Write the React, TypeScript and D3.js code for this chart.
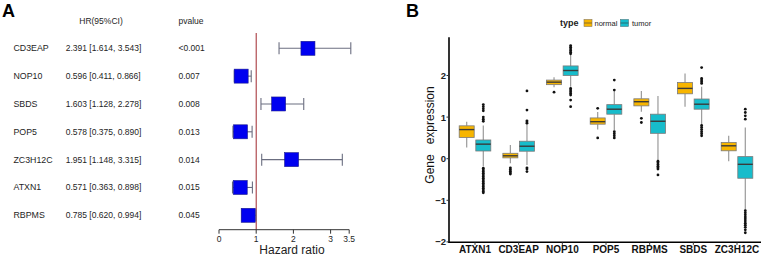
import React from "react";
import * as d3 from "d3";

// ---------- Panel A data ----------
const forestGenes = ["CD3EAP", "NOP10", "SBDS", "POP5", "ZC3H12C", "ATXN1", "RBPMS"];
const hrValues = [2.391, 0.596, 1.603, 0.578, 1.951, 0.571, 0.785];
const hrLower = [1.614, 0.411, 1.128, 0.375, 1.148, 0.363, 0.62];
const hrUpper = [3.543, 0.866, 2.278, 0.89, 3.315, 0.898, 0.994];
const pValues = ["<0.001", "0.007", "0.008", "0.013", "0.014", "0.015", "0.045"];
const hrTicks = [0, 1, 2, 3, 3.5];

// ---------- Panel B data ----------
const genes = ["ATXN1", "CD3EAP", "NOP10", "POP5", "RBPMS", "SBDS", "ZC3H12C"];
const groups = ["normal", "tumor"];
// [whiskerLow, q1, median, q3, whiskerHigh]
const normalStats = [
  [0.27, 0.51, 0.7, 0.79, 0.89],
  [-0.11, 0.02, 0.07, 0.13, 0.33],
  [1.72, 1.78, 1.84, 1.89, 1.96],
  [0.7, 0.83, 0.89, 0.98, 1.12],
  [1.13, 1.27, 1.37, 1.44, 1.63],
  [1.25, 1.56, 1.69, 1.83, 2.05],
  [-0.06, 0.19, 0.31, 0.39, 0.55],
];
const tumorStats = [
  [-0.18, 0.185, 0.35, 0.45, 0.8],
  [-0.15, 0.18, 0.3, 0.42, 0.81],
  [1.73, 2.0, 2.12, 2.23, 2.49],
  [0.69, 1.07, 1.19, 1.3, 1.62],
  [-0.03, 0.61, 0.9, 1.07, 1.51],
  [0.83, 1.19, 1.31, 1.435, 1.73],
  [-1.23, -0.47, -0.135, 0.05, 0.75],
];
const normalOutliers = [
  [],
  [-0.22, -0.26, -0.3, -0.34, -0.37],
  [1.6],
  [1.21, 0.5],
  [0.97, 0.87],
  [],
  [],
];
const tumorOutliers = [
  [0.9, 0.95, 1.0, 1.15, 1.2, 1.25, 1.3, -0.23, -0.27, -0.31, -0.35, -0.39, -0.43, -0.47, -0.51, -0.55, -0.59, -0.63, -0.67, -0.71, -0.75, -0.79, -0.82],
  [0.85, 0.88, 0.91, 1.17, 1.63, -0.22, -0.25, -0.31],
  [2.52, 2.56, 2.6, 2.64, 2.68, 2.72, 1.69, 1.65, 1.61, 1.57, 1.53, 1.41, 1.25],
  [1.65, 1.89, 0.65, 0.6, 0.55, 0.5],
  [-0.06, -0.1, -0.14, -0.18, -0.22, -0.25, -0.39],
  [1.81, 1.85, 1.89, 1.93, 2.19, 0.8, 0.75, 0.7, 0.65, 0.6, 0.55],
  [0.95, 1.03, 1.11, 1.19, -1.25, -1.3, -1.35, -1.4, -1.45, -1.5, -1.55, -1.6, -1.65, -1.71, -1.78],
];
const exprTicks = [-2, -1, 0, 1, 2];

const FONT = "Arial, 'Liberation Sans', Helvetica, sans-serif";
const COLORS: Record<string, string> = { normal: "#F7B500", tumor: "#17BCCB" };

export default function App() {
  // Panel A scales
  const hx = d3.scaleLinear().domain([0, 3.5]).range([219, 349.2]);
  const rowY = d3.scalePoint<string>().domain(forestGenes).range([48.3, 215.3]);
  const axisY = 229.7;
  const sq = 14;

  // Panel B scales
  const gx = d3.scalePoint<string>().domain(genes).range([475, 737]);
  const dodge = d3.scalePoint<string>().domain(groups).range([-8.3, 8.3]);
  const ey = d3.scaleLinear().domain([-2, 2]).range([241.9, 75.5]);
  const boxW = 15;
  const axisLeft = 449;
  const axisBottom = ey(-2.01);

  const boxes: any[] = [];
  genes.forEach((g, i) => {
    groups.forEach((grp) => {
      const s = grp === "normal" ? normalStats[i] : tumorStats[i];
      const o = grp === "normal" ? normalOutliers[i] : tumorOutliers[i];
      boxes.push({ g, grp, s, o, cx: (gx(g) as number) + (dodge(grp) as number) });
    });
  });

  const txt = "#1e1e1e";

  return (
    <svg width={761} height={256} style={{ position: "absolute", left: 0, top: 0, background: "#fff" }} fontFamily={FONT}>
      {/* ===== Panel A ===== */}
      <text x={2} y={17} fontSize={18} fontWeight="bold" fill="#000">A</text>
      <text x={101} y={23.5} fontSize={8.5} fill={txt} textAnchor="middle">HR(95%CI)</text>
      <text x={178.5} y={23.5} fontSize={8.5} fill={txt}>pvalue</text>
      {forestGenes.map((g, i) => {
        const y = rowY(g) as number;
        return (
          <g key={g}>
            <text x={13.5} y={y + 3} fontSize={8.8} fill={txt}>{g}</text>
            <text x={65.7} y={y + 3} fontSize={8.5} fill={txt}>
              {`${hrValues[i].toFixed(3)} [${hrLower[i].toFixed(3)}, ${hrUpper[i].toFixed(3)}]`}
            </text>
            <text x={178.5} y={y + 3} fontSize={8.5} fill={txt}>{pValues[i]}</text>
          </g>
        );
      })}
      {/* reference line */}
      <line x1={hx(1)} x2={hx(1)} y1={33} y2={axisY} stroke="#A0282E" strokeWidth={1} />
      {forestGenes.map((g, i) => {
        const y = rowY(g) as number;
        return (
          <g key={"ci" + g}>
            <line x1={hx(hrLower[i])} x2={hx(hrUpper[i])} y1={y} y2={y} stroke="#6B6E80" strokeWidth={1.1} />
            <line x1={hx(hrLower[i])} x2={hx(hrLower[i])} y1={y - 6} y2={y + 6} stroke="#6B6E80" strokeWidth={1.1} />
            <line x1={hx(hrUpper[i])} x2={hx(hrUpper[i])} y1={y - 6} y2={y + 6} stroke="#6B6E80" strokeWidth={1.1} />
            <rect x={hx(hrValues[i]) - sq / 2} y={y - sq / 2} width={sq} height={sq} fill="#0000F0" stroke="#1A1A8C" strokeWidth={0.6} />
          </g>
        );
      })}
      {/* HR axis */}
      <line x1={hx(0)} x2={hx(3.5)} y1={axisY} y2={axisY} stroke="#333" strokeWidth={1} />
      {hrTicks.map((t) => (
        <g key={"t" + t}>
          <line x1={hx(t)} x2={hx(t)} y1={axisY} y2={axisY + 4} stroke="#333" strokeWidth={1} />
          <text x={hx(t)} y={axisY + 12} fontSize={8.5} fill={txt} textAnchor="middle">{String(t)}</text>
        </g>
      ))}
      <text x={292} y={254} fontSize={12} fill="#222" textAnchor="middle">Hazard ratio</text>

      {/* ===== Panel B ===== */}
      <text x={406} y={17} fontSize={18} fontWeight="bold" fill="#000">B</text>
      {/* legend */}
      <text x={560} y={26} fontSize={9} fontWeight="bold" fill="#222">type</text>
      <rect x={584} y={19.5} width={8} height={7} fill={COLORS.normal} stroke="#8a7a5a" strokeWidth={0.6} />
      <line x1={584} x2={592} y1={23} y2={23} stroke="#6a5a3a" strokeWidth={0.8} />
      <text x={594.5} y={25.5} fontSize={7.5} fill="#222">normal</text>
      <rect x={620.5} y={19.5} width={8} height={7} fill={COLORS.tumor} stroke="#4a7a80" strokeWidth={0.6} />
      <line x1={620.5} x2={628.5} y1={23} y2={23} stroke="#2a5a60" strokeWidth={0.8} />
      <text x={632} y={25.5} fontSize={7.5} fill="#222">tumor</text>

      {/* y label */}
      <text transform={`translate(434,135) rotate(-90)`} fontSize={12} fill="#111" textAnchor="middle" xmlSpace="preserve" style={{ whiteSpace: "pre" }}>
        {"Gene   expression"}
      </text>

      {/* boxes */}
      {boxes.map((b) => {
        const [wl, q1, md, q3, wh] = b.s;
        return (
          <g key={b.g + b.grp}>
            <line x1={b.cx} x2={b.cx} y1={ey(wh)} y2={ey(q3)} stroke="#9a9a9a" strokeWidth={1.2} />
            <line x1={b.cx} x2={b.cx} y1={ey(q1)} y2={ey(wl)} stroke="#9a9a9a" strokeWidth={1.2} />
            <rect x={b.cx - boxW / 2} y={ey(q3)} width={boxW} height={ey(q1) - ey(q3)} fill={COLORS[b.grp]} stroke="#7a7a7a" strokeWidth={0.8} />
            <line x1={b.cx - boxW / 2} x2={b.cx + boxW / 2} y1={ey(md)} y2={ey(md)} stroke="#3a3a3a" strokeWidth={1.4} />
            {b.o.map((v: number, k: number) => (
              <circle key={k} cx={b.cx} cy={ey(v)} r={1.4} fill="#111" />
            ))}
          </g>
        );
      })}

      {/* axes */}
      <line x1={axisLeft} x2={axisLeft} y1={ey(2.92)} y2={axisBottom + 0.8} stroke="#000" strokeWidth={1.6} />
      <line x1={axisLeft - 0.8} x2={761} y1={axisBottom} y2={axisBottom} stroke="#000" strokeWidth={1.6} />
      {exprTicks.map((t) => (
        <g key={"e" + t}>
          <line x1={axisLeft - 2.5} x2={axisLeft} y1={ey(t)} y2={ey(t)} stroke="#333" strokeWidth={1} />
          <text x={446} y={ey(t) + 3.5} fontSize={9.5} fontWeight="bold" fill="#222" textAnchor="end">
            {t < 0 ? `\u2212${Math.abs(t)}` : String(t)}
          </text>
        </g>
      ))}
      {genes.map((g) => (
        <g key={"x" + g}>
          <line x1={gx(g) as number} x2={gx(g) as number} y1={axisBottom} y2={axisBottom + 2.5} stroke="#333" strokeWidth={1} />
          <text x={gx(g) as number} y={253} fontSize={10} fontWeight="bold" fill="#111" textAnchor="middle">{g}</text>
        </g>
      ))}
    </svg>
  );
}
